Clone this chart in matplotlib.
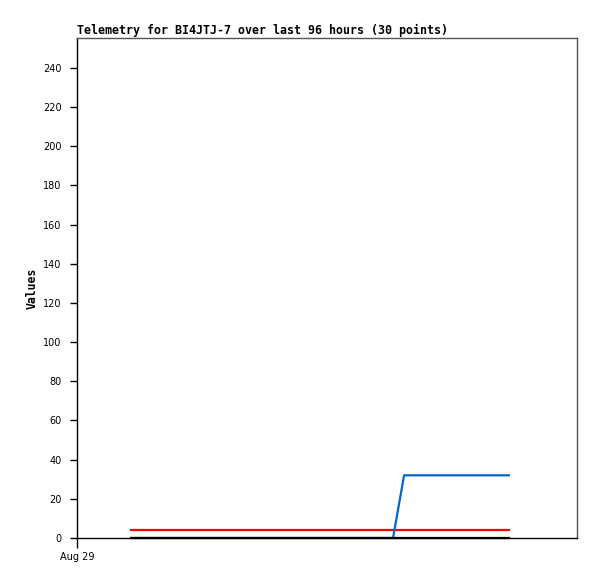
import matplotlib
matplotlib.use("Agg")
import matplotlib.pyplot as plt

# hours since Aug 29 00:00
times = [2.54, 3.2, 3.9, 4.6, 5.3, 6.0, 6.7, 7.4, 8.1, 8.8, 9.5, 10.2, 10.9,
         11.6, 12.3, 13.0, 13.7, 14.4, 15.17, 15.70, 16.2, 16.8, 17.3, 17.8,
         18.3, 18.8, 19.3, 19.8, 20.3, 20.78]
series_black = [0] * 30
series_red = [4] * 30
series_blue = [0] * 19 + [32] * 11

xtick_pos = [0]
xtick_labels = ["Aug 29"]
yticks = list(range(0, 241, 20))

fig = plt.figure(figsize=(5.97, 5.79), dpi=100)
ax = fig.add_axes([77/597, 41/579, 500/597, 500/579])

ax.plot(times, series_red, color="#ff0000", lw=1.6, zorder=2, solid_capstyle="butt")
ax.plot(times, series_blue, color="#0066cc", lw=1.6, zorder=3, solid_capstyle="butt")
ax.plot(times, series_black, color="#000000", lw=1.6, zorder=4, solid_capstyle="butt", clip_on=False)

ax.set_xlim(0, 24)
ax.set_ylim(0, 255.3)
ax.set_yticks(yticks)
ax.set_yticklabels([str(v) for v in yticks], fontsize=7, family="DejaVu Sans")
ax.set_xticks(xtick_pos)
ax.set_xticklabels(xtick_labels, fontsize=7, family="DejaVu Sans")
ax.tick_params(axis="y", direction="out", length=5, width=1, color="black", pad=6)
ax.tick_params(axis="x", direction="out", length=7, width=1, color="black", pad=3)

for s in ["top", "right"]:
    ax.spines[s].set_color("#555555")
for s in ["left", "bottom"]:
    ax.spines[s].set_color("#000000")
for s in ax.spines.values():
    s.set_linewidth(1)

ax.set_title("Telemetry for BI4JTJ-7 over last 96 hours (30 points)",
             loc="left", fontsize=8.37, fontweight="bold", family="DejaVu Sans Mono", pad=3)
ax.set_ylabel("Values", fontsize=8.3, fontweight="bold", family="DejaVu Sans Mono", labelpad=3)

fig.savefig("out.png", dpi=100)
